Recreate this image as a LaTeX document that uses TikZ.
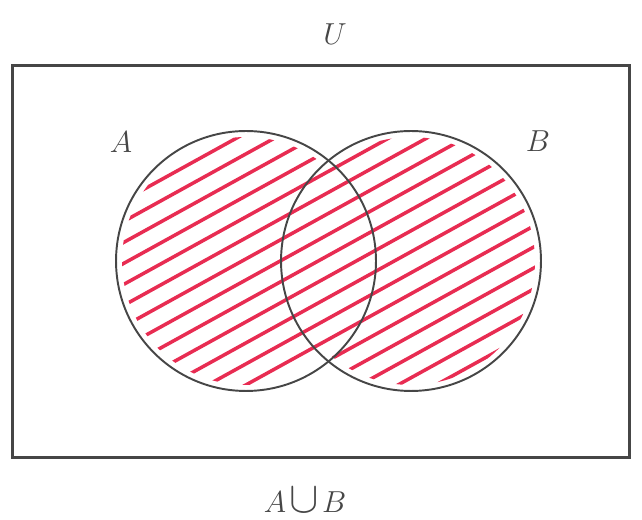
\documentclass[tikz,border=0pt]{standalone}
\usepackage{xcolor}
\usepackage{tikz}
\usetikzlibrary{positioning}

\definecolor{arsir}{RGB}{232,44,82}
\definecolor{garis}{RGB}{70,70,70}

\begin{document}
\begin{tikzpicture}[
    x=0.02cm, y=0.02cm,
    font=\LARGE,
    semesta/.style={draw=garis, line width=1.7pt},
    himp/.style={circle, draw=garis, line width=1.1pt, minimum size=5.2cm, inner sep=0pt},
    label/.style={text=garis, inner sep=1pt},
    coret/.style={arsir, line width=2pt, line cap=round}
  ]
    \useasboundingbox (0,0) rectangle (642,520);
    % arsiran A union B
    \begin{scope}
      \clip (246,259) circle (2.48cm) (411,259) circle (2.48cm);
      \foreach \c in {-140,-119,...,420}
        \draw[coret] (90,\c) -- (570,\c+265);
    \end{scope}
    \node[semesta, minimum width=12.36cm, minimum height=7.86cm, inner sep=0pt] (U) at (321,258.5) {};
    \node[himp] (A) at (246,259) {};
    \node[himp] (B) at (411,259) {};
    \node[label] (labU) at (335,486) {$U$};
    \node[label] (labA) at (121,378) {$A$};
    \node[label] (labB) at (538,379) {$B$};
    \node[label] (labAB) at (305,20) {$A\mkern2mu\scalebox{1.45}{$\cup$}\mkern2mu B$};
\end{tikzpicture}
\end{document}
